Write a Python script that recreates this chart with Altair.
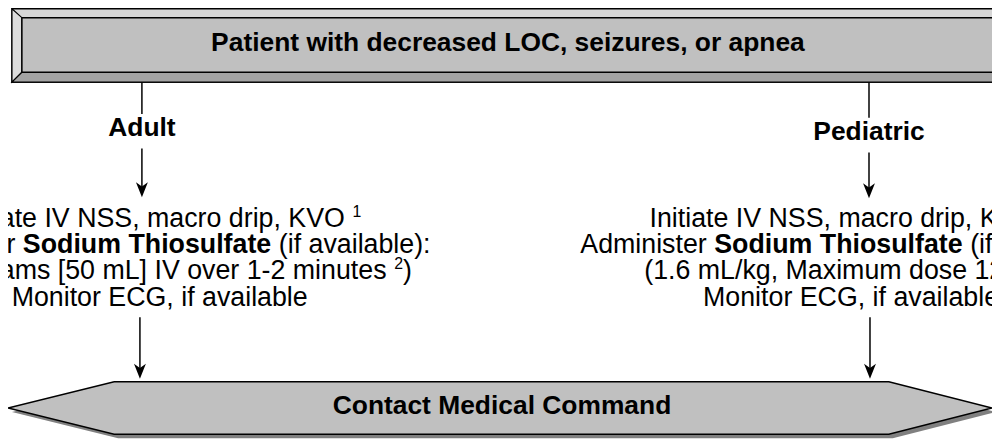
import altair as alt
import pandas as pd

# ---------------- content ----------------
top_label = "Patient with decreased LOC, seizures, or apnea"
branch_labels = ["Adult", "Pediatric"]
bottom_label = "Contact Medical Command"

# each line: list of (segment text, style) with style r=regular, b=bold, s=superscript
# leading spaces in a segment are kept as spacing
adult_lines = [
    [("Initiate IV NSS, macro drip, KVO", "r"), (" 1", "s")],
    [("Administer", "r"), (" Sodium Thiosulfate", "b"), (" (if available):", "r")],
    [("(12.5 grams [50 mL] IV over 1-2 minutes", "r"), (" 2", "s"), (")", "r")],
    [("Monitor ECG, if available", "r")],
]
ped_lines = [
    [("Initiate IV NSS, macro drip, KVO", "r"), (" 1", "s")],
    [("Administer", "r"), (" Sodium Thiosulfate", "b"), (" (if available):", "r")],
    [("(1.6 mL/kg, Maximum dose 12.5 g)", "r")],
    [("Monitor ECG, if available", "r")],
]

# ---------------- layout (reference pixel coordinates) ----------------
FONT = "Liberation Sans"
FS = 27
FSH = 26.6
FSS = 16
W, H = 992, 432          # svg size; page margin is 8px
XD = [8, 8 + W]
YD = [8, 8 + H]

col_center = [161, 858]
line_base = [227, 253.4, 279.8, 306.2]

# Arial / Liberation Sans advance widths (1/1000 em)
REG = {' ': 278, '(': 333, ')': 333, ',': 278, '-': 333, '.': 278, '/': 278, ':': 278,
       '[': 278, ']': 278,
       'A': 667, 'C': 722, 'E': 667, 'G': 778, 'I': 278, 'K': 667, 'L': 556, 'M': 833,
       'N': 722, 'O': 778, 'S': 667, 'V': 667,
       'a': 556, 'b': 556, 'c': 500, 'd': 556, 'e': 556, 'f': 278, 'g': 556, 'h': 556,
       'i': 222, 'k': 500, 'l': 222, 'm': 833, 'n': 556, 'o': 556, 'p': 556, 'r': 333,
       's': 500, 't': 278, 'u': 556, 'v': 500, 'x': 500}
BOLD = {' ': 278, 'S': 667, 'T': 611, 'o': 611, 'd': 611, 'i': 278, 'u': 611, 'm': 889,
        'h': 611, 's': 556, 'l': 278, 'f': 333, 'a': 556, 't': 333, 'e': 556}


def text_width(s, style):
    tbl = BOLD if style == "b" else REG
    size = FSS if style == "s" else FS
    return sum(tbl.get(c, 556) for c in s) / 1000 * size


seg_rows = []
for cx, lines in zip(col_center, [adult_lines, ped_lines]):
    for yb, segs in zip(line_base, lines):
        parts = []
        total = 0.0
        for t, st in segs:
            lead = (len(t) - len(t.lstrip())) * 0.278 * FS
            core = t.strip()
            w = text_width(core, st)
            parts.append((core, st, total + lead))
            total += lead + w
        x0 = cx - total / 2
        for core, st, off in parts:
            seg_rows.append({"x": x0 + off,
                             "y": yb - (10 if st == "s" else 0),
                             "text": core, "style": st})
seg_df = pd.DataFrame(seg_rows)

head_df = pd.DataFrame({
    "x": [512, 143, 876, 506],
    "y": [50, 135, 139, 416],
    "text": [top_label] + branch_labels + [bottom_label],
})


def X(f="x"):
    return alt.X(f"{f}:Q", scale=alt.Scale(domain=XD, nice=False, zero=False), axis=None)


def Y(f="y"):
    return alt.Y(f"{f}:Q", scale=alt.Scale(domain=YD, nice=False, zero=False, reverse=True), axis=None)


LINE = dict(color="black", strokeWidth=1.5)

# ---- top bevelled box ----
outer = alt.Chart(pd.DataFrame({"x": [12], "x2": [1012], "y": [7], "y2": [81]})).mark_rect(
    fill="#d6d6d6", stroke="black", strokeWidth=1.5).encode(x=X(), x2="x2:Q", y=Y(), y2="y2:Q")
left_bevel = alt.Chart(pd.DataFrame({"x": [12, 22], "y": [7, 16], "y2": [81, 71]})).mark_area(
    fill="#dcdcdc", stroke="black", strokeWidth=1.2, opacity=1).encode(x=X(), y=Y(), y2="y2:Q")
bottom_bevel = alt.Chart(pd.DataFrame({"x": [12, 22, 1012], "y": [81, 71, 71], "y2": [81, 81, 81]})).mark_area(
    fill="#a3a3a3", stroke="black", strokeWidth=1.2, opacity=1).encode(x=X(), y=Y(), y2="y2:Q")
inner = alt.Chart(pd.DataFrame({"x": [22], "x2": [1012], "y": [16], "y2": [71]})).mark_rect(
    fill="#c0c0c0", stroke="black", strokeWidth=1.5).encode(x=X(), x2="x2:Q", y=Y(), y2="y2:Q")

# ---- bottom hexagon with shadow ----
hx = [8, 115, 896, 1000]
hy = [409.5, 383, 383, 409.5]
hy2 = [409.5, 436, 436, 409.5]
shadow = alt.Chart(pd.DataFrame({"x": [v + 4 for v in hx], "y": [v + 4 for v in hy],
                                 "y2": [v + 4 for v in hy2]})).mark_area(
    fill="#808080", opacity=1).encode(x=X(), y=Y(), y2="y2:Q")
hexa = alt.Chart(pd.DataFrame({"x": hx, "y": hy, "y2": hy2})).mark_area(
    fill="#c0c0c0", stroke="black", strokeWidth=1.5, opacity=1).encode(x=X(), y=Y(), y2="y2:Q")

# ---- connectors ----
plain_lines = pd.DataFrame({"x": [143, 876], "y": [81, 81], "y2": [113, 117]})
arrows = pd.DataFrame({"x": [143, 876, 141, 877],
                       "y": [148, 152, 318, 318],
                       "tip": [197, 198, 380, 380]})
arrows["shaft_end"] = arrows["tip"] - 8
arrows["head"] = arrows["tip"] - 7.5

conn = alt.Chart(plain_lines).mark_rule(**LINE).encode(x=X(), y=Y(), y2="y2:Q")
shafts = alt.Chart(arrows).mark_rule(**LINE).encode(x=X(), y=Y(), y2="shaft_end:Q")
heads = alt.Chart(arrows).mark_point(
    shape="M-0.8,-1 L0,1 L0.8,-1 L0,-0.45 Z", size=225, filled=True,
    color="black", opacity=1, strokeWidth=0).encode(x=X(), y=Y("head"))

# ---- text ----
heads_txt = alt.Chart(head_df).mark_text(
    align="center", baseline="alphabetic", font=FONT, fontSize=FSH, fontWeight="bold",
    color="black").encode(x=X(), y=Y(), text="text:N")
body_reg = alt.Chart(seg_df[seg_df["style"] == "r"]).mark_text(
    align="left", baseline="alphabetic", font=FONT, fontSize=FS, color="black").encode(
    x=X(), y=Y(), text="text:N")
body_bold = alt.Chart(seg_df[seg_df["style"] == "b"]).mark_text(
    align="left", baseline="alphabetic", font=FONT, fontSize=FS, fontWeight="bold",
    color="black").encode(x=X(), y=Y(), text="text:N")
body_sup = alt.Chart(seg_df[seg_df["style"] == "s"]).mark_text(
    align="left", baseline="alphabetic", font=FONT, fontSize=FSS, color="black").encode(
    x=X(), y=Y(), text="text:N")

chart = alt.layer(
    outer, left_bevel, bottom_bevel, inner,
    shadow, hexa,
    conn, shafts, heads,
    heads_txt, body_reg, body_bold, body_sup,
).properties(
    width=W, height=H, padding=0, background="white",
    autosize=alt.AutoSizeParams(type="none"),
).configure_view(stroke=None)

chart.save("out.html", embed_options={"renderer": "svg", "actions": False})
